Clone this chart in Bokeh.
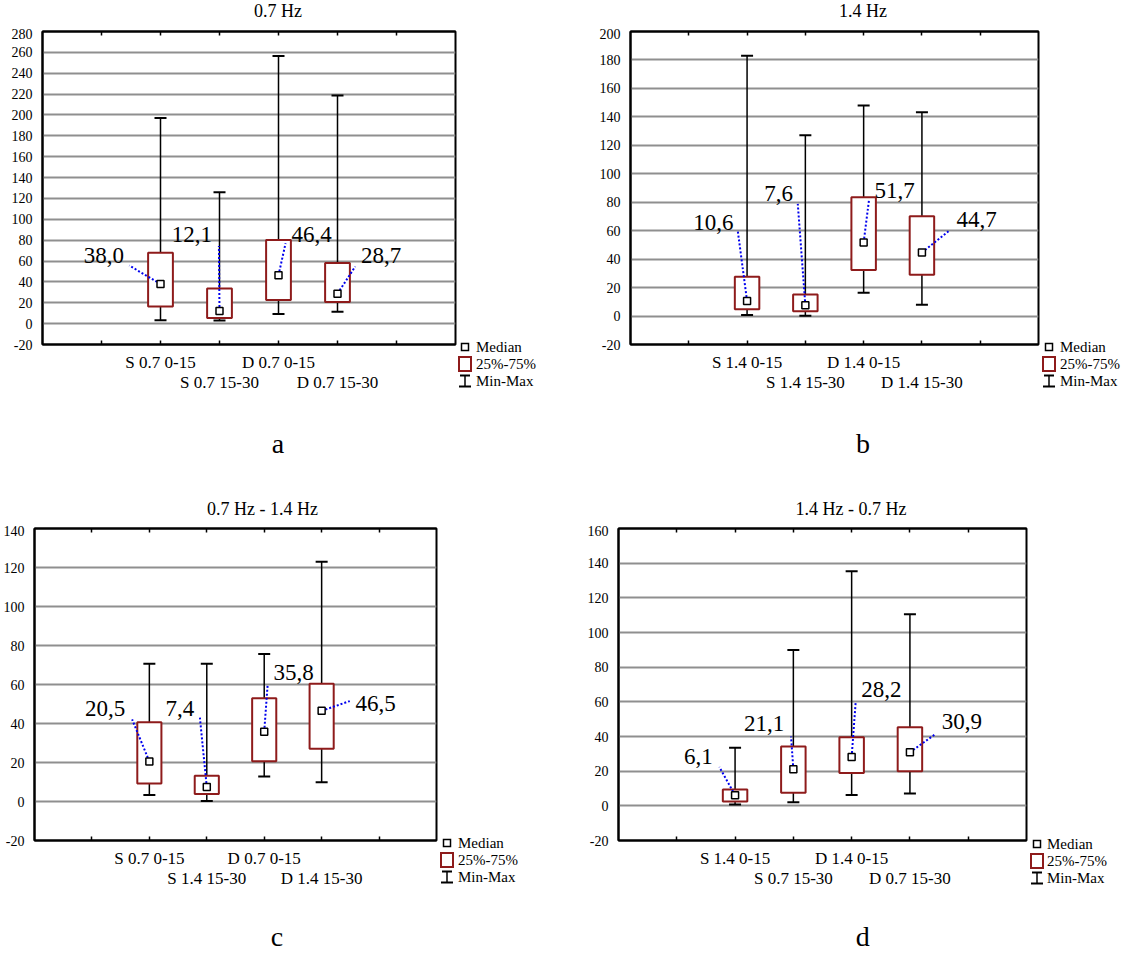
from bokeh.plotting import figure
from bokeh.models import (ColumnDataSource, Range1d, LinearAxis, FixedTicker,
                          SingleIntervalTicker, Whisker, TeeHead, Grid, Div)
from bokeh.layouts import row, column
from bokeh.core.properties import value
from bokeh.embed import file_html
from bokeh.resources import INLINE

FONT = "Liberation Serif"

# ---------------- data ----------------
a_title = "0.7 Hz"
a_cats = ["S 0.7 0-15", "S 0.7 15-30", "D 0.7 0-15", "D 0.7 15-30"]
a_med = [38.0, 12.1, 46.4, 28.7]
a_q1 = [16.5, 5.4, 22.6, 20.7]
a_q3 = [68.0, 33.7, 80.2, 58.2]
a_min = [3.2, 3.0, 9.2, 11.5]
a_max = [197.0, 126.0, 256.5, 218.6]

b_title = "1.4 Hz"
b_cats = ["S 1.4 0-15", "S 1.4 15-30", "D 1.4 0-15", "D 1.4 15-30"]
b_med = [10.6, 7.6, 51.7, 44.7]
b_q1 = [4.7, 3.3, 32.4, 29.1]
b_q3 = [27.7, 15.2, 83.5, 70.1]
b_min = [0.7, 0.2, 16.4, 8.0]
b_max = [182.9, 127.1, 148.0, 143.3]

c_title = "0.7 Hz - 1.4 Hz"
c_cats = ["S 0.7 0-15", "S 1.4 15-30", "D 0.7 0-15", "D 1.4 15-30"]
c_med = [20.5, 7.4, 35.8, 46.5]
c_q1 = [9.2, 3.9, 20.7, 27.0]
c_q3 = [40.6, 13.2, 52.9, 60.4]
c_min = [3.3, 0.2, 12.8, 9.9]
c_max = [70.7, 70.7, 75.6, 122.9]

d_title = "1.4 Hz - 0.7 Hz"
d_cats = ["S 1.4 0-15", "S 0.7 15-30", "D 1.4 0-15", "D 0.7 15-30"]
d_med = [6.1, 21.1, 28.2, 30.9]
d_q1 = [2.5, 7.5, 19.0, 19.9]
d_q3 = [9.4, 34.3, 39.5, 45.4]
d_min = [0.8, 2.1, 6.3, 7.1]
d_max = [33.5, 89.9, 135.3, 110.6]

y_tops = {"a": 280, "b": 200, "c": 140, "d": 160}
Y_BOTTOM = -20
legend_labels = ["Median", "25%-75%", "Min-Max"]

# ---------------- layout constants ----------------
callouts = {
    "a": dict(ldx=[-0.53, -0.01, 0.12, 0.30], ldy=[17.7, 62.3, 30.6, 26.0],
              tdx=[-0.96, -0.47, 0.56, 0.74], tdy=[29.4, 75.4, 41.1, 38.8]),
    "b": dict(ldx=[-0.16, -0.13, 0.09, 0.47], ldy=[49.4, 71.2, 29.3, 15.3],
              tdx=[-0.58, -0.46, 0.53, 0.94], tdy=[56.9, 79.6, 37.7, 24.3]),
    "c": dict(ldx=[-0.30, -0.12, 0.06, 0.49], ldy=[21.6, 35.6, 24.2, 5.0],
              tdx=[-0.77, -0.47, 0.51, 0.94], tdy=[28.1, 41.2, 31.4, 5.0]),
    "d": dict(ldx=[-0.27, -0.04, 0.07, 0.42], ldy=[16.3, 18.9, 32.0, 10.1],
              tdx=[-0.63, -0.50, 0.51, 0.89], tdy=[23.4, 27.8, 39.8, 18.7]),
}

PAGE_W = 1125
HDR1_H, ROW1_H, CAP1_H, HDR2_H, ROW2_H, CAP2_H = 28, 372, 73, 52, 375, 53
MBT = 3
# main figure: x of left edge on page, width, min border left, frame height, caption x (data)
frames = {
    "a": (0, 457, 42, 313, 4.0),
    "b": (560, 480, 70, 313, 4.0),
    "c": (0, 438, 31, 312, 4.25),
    "d": (560, 468, 58, 312, 4.2),
}
MBR = 2
# legend strip: width, glyph centre x, text x, row centres (relative to row top)
legends = {
    "a": (103, 8, 19, [319, 336, 353]),
    "b": (85, 9, 20, [319, 336, 353]),
    "c": (122, 9, 20, [318, 335, 352]),
    "d": (97, 9, 19, [319, 336, 353]),
}

BOX_COLOR = "#8e1b1b"
GRID_COLOR = "#8f8f8f"
LEADER_COLOR = "#0000ee"


def make_panel(key, cats, med, q1, q3, vmin, vmax, height):
    x0, W, mbl, fh, cap_x = frames[key]
    ytop = y_tops[key]
    co = callouts[key]
    xs = [2, 3, 4, 5]
    labels = [("%.1f" % m).replace(".", ",") for m in med]
    src = ColumnDataSource(dict(
        x=xs, med=med, q1=q1, q3=q3, lo=vmin, hi=vmax, lbl=labels,
        lx=[x + d for x, d in zip(xs, co["ldx"])],
        ly=[m + d for m, d in zip(med, co["ldy"])],
        tx=[x + d for x, d in zip(xs, co["tdx"])],
        ty=[m + d for m, d in zip(med, co["tdy"])],
    ))

    p = figure(width=W, height=height,
               x_range=Range1d(0, 7), y_range=Range1d(Y_BOTTOM, ytop),
               min_border_left=mbl, min_border_right=MBR,
               min_border_top=MBT, min_border_bottom=height - MBT - fh,
               title_location=None,
               output_backend="svg", toolbar_location=None)
    p.outline_line_color = "black"
    p.outline_line_width = 2
    p.xgrid.visible = False
    p.ygrid.visible = False

    yax = p.yaxis[0]
    yax.ticker = SingleIntervalTicker(interval=20)
    yax.major_label_overrides = {Y_BOTTOM: "-20"}
    yax.major_label_text_font = FONT
    yax.major_label_text_font_size = "14px"
    yax.major_label_text_color = "black"
    yax.major_tick_in = 0
    yax.major_tick_out = 0
    yax.minor_tick_line_color = None
    yax.major_label_standoff = 6
    yax.axis_line_width = 2

    p.add_layout(Grid(dimension=1, ticker=yax.ticker, grid_line_color=GRID_COLOR,
                      grid_line_width=2))

    xax = p.xaxis[0]
    xax.ticker = FixedTicker(ticks=[1, 2, 3, 4, 5, 6])
    xax.major_label_overrides = {1: "", 2: cats[0], 3: "", 4: cats[2], 5: "", 6: ""}
    xax.major_label_text_font = FONT
    xax.major_label_text_font_size = "17px"
    xax.major_label_text_color = "black"
    xax.major_tick_in = 4
    xax.major_tick_out = 0
    xax.major_tick_line_width = 1.5
    xax.minor_tick_line_color = None
    xax.major_label_standoff = 8
    xax.axis_line_width = 2

    xax2 = LinearAxis(ticker=FixedTicker(ticks=[3, 5]),
                      major_label_overrides={3: cats[1], 5: cats[3]},
                      axis_line_color=None, major_tick_line_color=None,
                      minor_tick_line_color=None, major_label_standoff=-8,
                      major_label_text_font=FONT, major_label_text_font_size="17px",
                      major_label_text_color="black")
    p.add_layout(xax2, "below")

    xtop = LinearAxis(ticker=FixedTicker(ticks=[1, 2, 3, 4, 5, 6]),
                      major_label_text_font_size="0px", major_label_standoff=0,
                      major_tick_in=4, major_tick_out=0, major_tick_line_width=1.5,
                      minor_tick_line_color=None, axis_line_width=2)
    xtop.major_label_overrides = {t: "" for t in [1, 2, 3, 4, 5, 6]}
    p.add_layout(xtop, "above")

    p.add_layout(Whisker(base="x", lower="lo", upper="hi", source=src,
                         line_color="black", line_width=1.5,
                         lower_head=TeeHead(size=12, line_color="black", line_width=2),
                         upper_head=TeeHead(size=12, line_color="black", line_width=2)))
    p.vbar(x="x", width=0.42, bottom="q1", top="q3", source=src,
           fill_color="white", line_color=BOX_COLOR, line_width=2)
    p.segment(x0="x", y0="med", x1="lx", y1="ly", source=src,
              line_color=LEADER_COLOR, line_width=2, line_dash="2 2")
    p.scatter(x="x", y="med", source=src, marker="square", size=7,
              fill_color="white", line_color="black", line_width=1.5)
    p.text(x="tx", y="ty", text="lbl", source=src, text_font=value(FONT),
           text_font_size="23px", text_align="center", text_baseline="middle",
           text_color="black", y_offset=2)
    return p


def frame_x(key, xdata):
    """page x of a data x position inside panel `key`."""
    x0, W, mbl, fh, cap_x = frames[key]
    fw = W - mbl - MBR
    return x0 + mbl + xdata * fw / 7.0


def svg_div(width, height, body):
    svg = ('<svg xmlns="http://www.w3.org/2000/svg" width="%d" height="%d" '
           'style="display:block;overflow:visible">%s</svg>' % (width, height, body))
    return Div(text=svg, width=width, height=height,
               styles={"margin": "0", "padding": "0", "overflow": "visible",
                       "font-family": "'%s', serif" % FONT})


def svg_text(x, y, s, size, anchor="middle"):
    return ('<text x="%.1f" y="%.1f" text-anchor="%s" fill="black" '
            'style="font-family:\'%s\', serif;font-size:%dpx;font-weight:normal">%s</text>'
            % (x, y, anchor, FONT, size, s))


def legend_div(key, height):
    w, gx, tx, rows = legends[key]
    r1, r2, r3 = rows
    body = []
    body.append('<rect x="%.1f" y="%.1f" width="7" height="7" fill="white" '
                'stroke="black" stroke-width="1.5"/>' % (gx - 3.5, r1 - 3.5))
    body.append('<rect x="%.1f" y="%.1f" width="12" height="14" fill="white" '
                'stroke="%s" stroke-width="2"/>' % (gx - 6, r2 - 7, BOX_COLOR))
    body.append('<line x1="%.1f" y1="%.1f" x2="%.1f" y2="%.1f" stroke="black" '
                'stroke-width="1.5"/>' % (gx, r3 - 5.5, gx, r3 + 5.5))
    body.append('<line x1="%.1f" y1="%.1f" x2="%.1f" y2="%.1f" stroke="black" '
                'stroke-width="2"/>' % (gx - 5, r3 - 5.5, gx + 5, r3 - 5.5))
    body.append('<line x1="%.1f" y1="%.1f" x2="%.1f" y2="%.1f" stroke="black" '
                'stroke-width="2"/>' % (gx - 6, r3 + 5.5, gx + 6, r3 + 5.5))
    for lab, ry in zip(legend_labels, rows):
        body.append(svg_text(tx, ry + 5, lab, 15, anchor="start"))
    return svg_div(w, height, "".join(body))


pa = make_panel("a", a_cats, a_med, a_q1, a_q3, a_min, a_max, ROW1_H)
pb = make_panel("b", b_cats, b_med, b_q1, b_q3, b_min, b_max, ROW1_H)
pc = make_panel("c", c_cats, c_med, c_q1, c_q3, c_min, c_max, ROW2_H)
pd = make_panel("d", d_cats, d_med, d_q1, d_q3, d_min, d_max, ROW2_H)

hdr1 = svg_div(PAGE_W, HDR1_H, svg_text(frame_x("a", 4), 17, a_title, 18) +
               svg_text(frame_x("b", 4), 17, b_title, 18))
cap1 = svg_div(PAGE_W, CAP1_H, svg_text(frame_x("a", frames["a"][4]), 53, "a", 28) +
               svg_text(frame_x("b", frames["b"][4]), 53, "b", 28))
hdr2 = svg_div(PAGE_W, HDR2_H, svg_text(frame_x("c", 4), 41.6, c_title, 18) +
               svg_text(frame_x("d", 4), 41.6, d_title, 18))
cap2 = svg_div(PAGE_W, CAP2_H, svg_text(frame_x("c", frames["c"][4]), 46, "c", 28) +
               svg_text(frame_x("d", frames["d"][4]), 46, "d", 28))

row1 = row(pa, legend_div("a", ROW1_H), pb, legend_div("b", ROW1_H), spacing=0)
row2 = row(pc, legend_div("c", ROW2_H), pd, legend_div("d", ROW2_H), spacing=0)
layout = column(hdr1, row1, cap1, hdr2, row2, cap2, spacing=0)
open("out.html", "w").write(file_html(layout, INLINE))
